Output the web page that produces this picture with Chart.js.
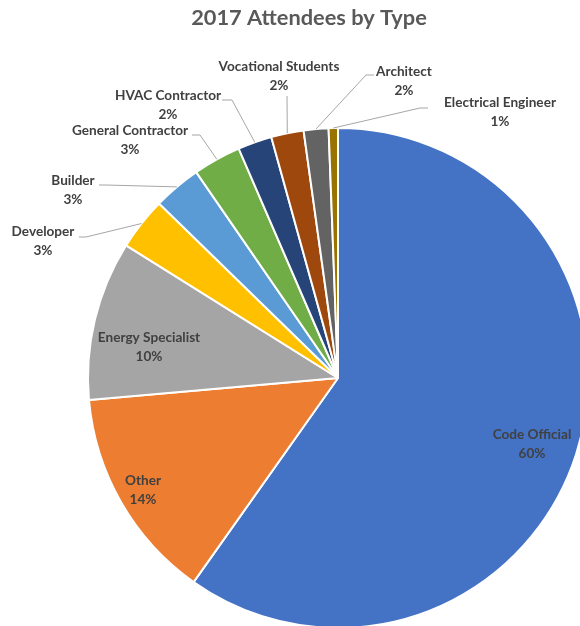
<!DOCTYPE html>
<html>
<head>
<meta charset="utf-8">
<script src="https://cdn.jsdelivr.net/npm/chart.js@4.4.0/dist/chart.umd.min.js"></script>
<style>
  html, body { margin: 0; padding: 0; background: #fff; overflow: hidden; }
  #wrap { position: relative; width: 580px; height: 626px; overflow: hidden; }
  #chart { position: absolute; left: 0; top: 0; }
</style>
</head>
<body>
<div id="wrap"><canvas id="chart" width="600" height="640"></canvas></div>
<script>
const categories = [
    'Code Official', 'Other', 'Energy Specialist', 'Developer', 'Builder',
    'General Contractor', 'HVAC Contractor', 'Vocational Students', 'Architect', 'Electrical Engineer'
];
// share of attendees, percent
const shares = [59.8, 13.8, 10.3, 3.4, 3.1, 3.1, 2.2, 2.1, 1.6, 0.6];

const sliceColors = [
    '#4472C4', '#ED7D31', '#A5A5A5', '#FFC000', '#5B9BD5',
    '#70AD47', '#264478', '#9E480E', '#636363', '#997300'
];

// where each label sits; outside labels get a leader line (stub end, elbow)
const labelSpots = [
    { x: 532, y: 435 },
    { x: 143, y: 481 },
    { x: 149, y: 338 },
    { x: 43,  y: 232, line: [[79, 237], [86, 237]] },
    { x: 73,  y: 181, line: [[99, 185], [106, 185]] },
    { x: 130, y: 131, line: [[192, 135], [200, 135]] },
    { x: 168, y: 96,  line: [[222, 100], [232, 100]] },
    { x: 279, y: 67,  line: [[287, 96], [287, 96]] },
    { x: 404, y: 72,  line: [[374, 75], [366, 75]] },
    { x: 500, y: 103, line: [[428, 108], [420, 108]] }
];

const TEXT_COLOR = '#404040';
const LABEL_FONT = 'bold 13.6px Lato, "Open Sans", sans-serif';

const titlePlugin = {
    id: 'pieTitle',
    afterDraw(chart) {
        const ctx = chart.ctx;
        ctx.save();
        ctx.fillStyle = '#595959';
        ctx.font = 'bold 21.8px Lato, "Open Sans", sans-serif';
        ctx.textAlign = 'center';
        ctx.textBaseline = 'middle';
        ctx.fillText('2017 Attendees by Type', 309, 18);
        ctx.restore();
    }
};

const sliceLabels = {
    id: 'sliceLabels',
    afterDatasetsDraw(chart) {
        const ctx = chart.ctx;
        const arcs = chart.getDatasetMeta(0).data;
        const total = shares.reduce((a, b) => a + b, 0);
        ctx.save();
        arcs.forEach((arc, i) => {
            const spot = labelSpots[i];
            if (spot.line) {
                const mid = (arc.startAngle + arc.endAngle) / 2;
                const ax = arc.x + Math.cos(mid) * arc.outerRadius;
                const ay = arc.y + Math.sin(mid) * arc.outerRadius;
                ctx.strokeStyle = '#A6A6A6';
                ctx.lineWidth = 1;
                ctx.beginPath();
                ctx.moveTo(ax, ay);
                ctx.lineTo(spot.line[1][0], spot.line[1][1]);
                ctx.lineTo(spot.line[0][0], spot.line[0][1]);
                ctx.stroke();
            }
            ctx.fillStyle = TEXT_COLOR;
            ctx.font = LABEL_FONT;
            ctx.textAlign = 'center';
            ctx.textBaseline = 'middle';
            ctx.fillText(categories[i], spot.x, spot.y);
            ctx.fillText(Math.round(shares[i] / total * 100) + '%', spot.x, spot.y + 19);
        });
        ctx.restore();
    }
};

new Chart(document.getElementById('chart'), {
    type: 'pie',
    data: {
        labels: categories,
        datasets: [{
            data: shares,
            backgroundColor: sliceColors,
            borderColor: '#ffffff',
            borderWidth: 2
        }]
    },
    options: {
        responsive: false,
        devicePixelRatio: 1,
        animation: false,
        layout: { padding: { left: 87, top: 127, right: 11, bottom: 11 } },
        plugins: {
            legend: { display: false },
            tooltip: { enabled: false },
            title: { display: false }
        }
    },
    plugins: [titlePlugin, sliceLabels]
});
</script>
</body>
</html>
